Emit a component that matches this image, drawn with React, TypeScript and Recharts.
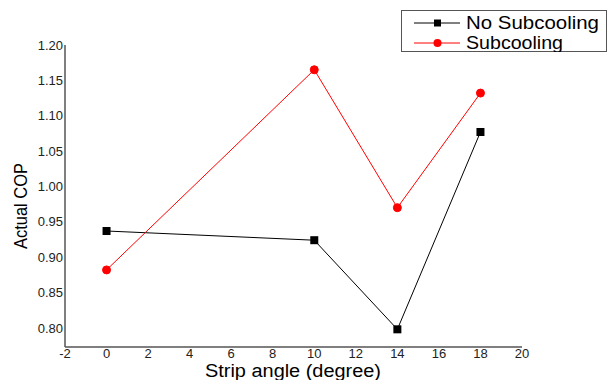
import React from "react";
import { LineChart, Line, XAxis, YAxis } from "recharts";

const angles = [0, 10, 14, 18];
const noSubcooling = [0.937, 0.924, 0.798, 1.077];
const subcooling = [0.882, 1.165, 0.97, 1.132];
const xTicks = [-2, 0, 2, 4, 6, 8, 10, 12, 14, 16, 18, 20];
const yTicks = [0.8, 0.85, 0.9, 0.95, 1.0, 1.05, 1.1, 1.15, 1.2];
const seriesNames = ["No Subcooling", "Subcooling"];

const data = angles.map((a, i) => ({ angle: a, noSub: noSubcooling[i], sub: subcooling[i] }));

const FONT = "'Liberation Sans', Arial, sans-serif";

const SquareDot = (props: any) => {
    const { cx, cy } = props;
    return <rect x={cx - 4} y={cy - 4} width={8} height={8} fill="#000" />;
};

// legend drawn as its own small svg over the chart
const LegendBox = () => (
    <svg width={206} height={42} style={{ position: "absolute", left: 401, top: 10 }}>
        <rect x={0.5} y={0.5} width={205} height={41} fill="#fff" stroke="#555" strokeWidth={1} />
        <line x1={13} y1={13} x2={59} y2={13} stroke="#000" strokeWidth={1} />
        <rect x={33} y={9.5} width={7} height={7} fill="#000" />
        <text x={65} y={19} fontSize={18} fontFamily={FONT} fill="#000" textLength={133} lengthAdjust="spacingAndGlyphs">
            {seriesNames[0]}
        </text>
        <line x1={13} y1={33} x2={59} y2={33} stroke="#f00" strokeWidth={1} />
        <circle cx={36.5} cy={33} r={4} fill="#f00" />
        <text x={65} y={39} fontSize={18} fontFamily={FONT} fill="#000" textLength={97} lengthAdjust="spacingAndGlyphs">
            {seriesNames[1]}
        </text>
    </svg>
);

export default function App() {
    return (
        <div style={{ position: "absolute", left: 0, top: 0, width: 608, height: 380, background: "#fff" }}>
            <LineChart width={608} height={380} data={data} margin={{ top: 45, right: 86, bottom: 0, left: 0 }}>
                <XAxis
                    dataKey="angle"
                    type="number"
                    domain={[-2, 20]}
                    ticks={xTicks}
                    height={33}
                    tickLine={false}
                    tickSize={0}
                    tickMargin={2}
                    axisLine={{ stroke: "#555", strokeWidth: 1.5 }}
                    tick={{ fill: "#222", fontSize: 13, fontFamily: FONT }}
                    label={{
                        content: () => (
                            <text
                                x={293}
                                y={377}
                                textAnchor="middle"
                                fontSize={18}
                                fontFamily={FONT}
                                fill="#000"
                                textLength={176}
                                lengthAdjust="spacingAndGlyphs"
                            >
                                Strip angle (degree)
                            </text>
                        ),
                    }}
                />
                <YAxis
                    type="number"
                    domain={[0.773, 1.2]}
                    ticks={yTicks}
                    width={65}
                    tickLine={false}
                    tickSize={0}
                    tickMargin={2}
                    allowDataOverflow
                    tickFormatter={(v: number) => v.toFixed(2)}
                    axisLine={{ stroke: "#555", strokeWidth: 1.5 }}
                    tick={{ fill: "#222", fontSize: 13, fontFamily: FONT }}
                    label={{
                        content: () => (
                            <text
                                x={27}
                                y={206}
                                transform="rotate(-90 27 206)"
                                textAnchor="middle"
                                fontSize={18}
                                fontFamily={FONT}
                                fill="#000"
                                textLength={86}
                                lengthAdjust="spacingAndGlyphs"
                            >
                                Actual COP
                            </text>
                        ),
                    }}
                />
                <Line
                    dataKey="noSub"
                    name={seriesNames[0]}
                    stroke="#000"
                    strokeWidth={1}
                    dot={<SquareDot />}
                    activeDot={false}
                    isAnimationActive={false}
                />
                <Line
                    dataKey="sub"
                    name={seriesNames[1]}
                    stroke="#f00"
                    strokeWidth={1}
                    dot={{ r: 4, fill: "#f00", stroke: "#f00", strokeWidth: 1 }}
                    activeDot={false}
                    isAnimationActive={false}
                />
            </LineChart>
            <LegendBox />
        </div>
    );
}
